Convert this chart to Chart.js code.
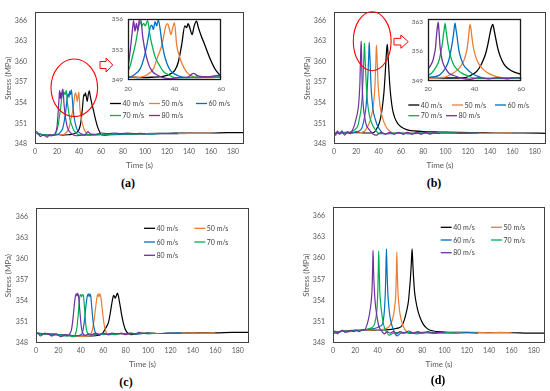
<!DOCTYPE html>
<html>
<head>
<meta charset="utf-8">
<script src="https://cdn.jsdelivr.net/npm/chart.js@4.4.1/dist/chart.umd.min.js"></script>
<style>
  body { margin: 0; background: #fff; width: 550px; height: 391px; position: relative; overflow: hidden; }
  .pane { position: absolute; }
  .pane canvas { display: block; }
  .tag { position: absolute; font: bold 12px "Liberation Serif", "DejaVu Serif", serif; color: #000; transform: translate(-50%, -50%); }
</style>
</head>
<body>
<div class="pane" style="left:0px;top:0px"><canvas id="chartA" width="275" height="175"></canvas></div>
<div class="pane" style="left:299px;top:0px"><canvas id="chartB" width="251" height="175"></canvas></div>
<div class="pane" style="left:0px;top:196px"><canvas id="chartC" width="275" height="178"></canvas></div>
<div class="pane" style="left:298px;top:195px"><canvas id="chartD" width="252" height="179"></canvas></div>
<div class="pane" style="left:100px;top:10px"><canvas id="insetA" width="130" height="90"></canvas></div>
<div class="pane" style="left:400px;top:10px"><canvas id="insetB" width="130" height="90"></canvas></div>
<div class="tag" style="left:128px;top:183px">(a)</div>
<div class="tag" style="left:434px;top:183px">(b)</div>
<div class="tag" style="left:126px;top:382px">(c)</div>
<div class="tag" style="left:438px;top:380px">(d)</div>
<script>
// series names and colours
const speedLabels = ['40 m/s', '50 m/s', '60 m/s', '70 m/s', '80 m/s'];
const seriesColors = ['#000000', '#ED7D31', '#0070C0', '#00B050', '#7030A0'];

// axis ticks
const timeTicks = [0, 20, 40, 60, 80, 100, 120, 140, 160, 180];
const stressTicks = [348, 351, 354, 357, 360, 363, 366];
const insetTimeTicks = [20, 40, 60];
const insetATicks = [349, 352.5, 356];
const insetALabels = ['349', '353', '356'];
const insetBTicks = [349, 356, 363];
const insetBLabels = ['349', '356', '363'];

// (a) time (s) / stress (MPa)
const a40t = [0, 5, 10, 15, 20, 25, 30, 35, 38, 40, 41.5, 43, 44.4, 45.2, 45.8, 46.5, 47.5, 48.4, 49.4, 50.2, 51.5, 53, 55, 57.2, 59, 60, 63, 68, 75, 85, 100, 120, 140, 160, 175, 190];
const a40s = [349.6, 349.4, 349.3, 349.3, 349.4, 349.3, 349.35, 349.45, 349.7, 350.1, 351.0, 353.0, 355.2, 355.0, 355.45, 355.0, 354.2, 355.2, 355.75, 355.0, 354.0, 353.0, 351.6, 350.35, 349.7, 349.4, 349.3, 349.35, 349.4, 349.45, 349.5, 349.55, 349.6, 349.6, 349.65, 349.65];
const a50t = [0, 5, 10, 15, 20, 25, 28, 30.9, 32.5, 34.5, 35.5, 36.2, 37.0, 37.7, 38.4, 39.2, 39.9, 40.9, 42, 43, 45, 47.2, 50, 55, 60, 70, 80, 90, 100, 110, 120, 130, 140, 150, 160];
const a50s = [349.6, 349.4, 349.3, 349.3, 349.4, 349.35, 349.6, 350.3, 351.5, 353.0, 354.3, 355.2, 355.46, 354.9, 354.2, 355.0, 355.56, 353.0, 351.8, 351.0, 350.0, 349.5, 349.3, 349.3, 349.4, 349.35, 349.4, 349.45, 349.45, 349.5, 349.5, 349.5, 349.55, 349.55, 349.55];
const a60t = [0, 5, 10, 15, 18, 21, 23, 25.2, 26.8, 28.1, 29.5, 30.2, 30.9, 31.6, 32.3, 33.0, 33.7, 34.5, 35.5, 36.6, 38, 40.1, 43, 47, 55, 65, 75, 85, 95, 105, 115, 130];
const a60s = [349.6, 349.4, 349.3, 349.3, 349.3, 349.4, 349.7, 350.3, 351.5, 353.0, 355.0, 355.3, 354.8, 355.7, 355.2, 355.9, 355.0, 353.4, 352.0, 351.0, 350.2, 349.7, 349.4, 349.3, 349.35, 349.4, 349.4, 349.45, 349.5, 349.45, 349.5, 349.5];
const a70t = [0, 5, 10, 15, 17.5, 19.5, 21.0, 22, 23.1, 24.5, 25.2, 26.0, 26.7, 27.4, 28.4, 29.5, 30.5, 31.6, 33.5, 35.2, 37.5, 40.1, 45, 50, 60, 70, 80, 90, 100, 110];
const a70s = [349.6, 349.4, 349.3, 349.2, 349.3, 349.8, 350.7, 351.8, 353.0, 355.0, 355.7, 355.2, 355.5, 355.2, 355.8, 354.0, 352.8, 351.7, 350.7, 350.0, 349.6, 349.3, 349.3, 349.4, 349.35, 349.45, 349.5, 349.45, 349.5, 349.5];
const a80t = [0, 1.5, 3, 5, 7, 9, 11, 13, 15, 17, 18.5, 20, 21, 21.8, 22.4, 23.0, 23.6, 24.2, 24.8, 25.4, 26.4, 27.6, 29, 30.5, 32.5, 35, 38, 42, 46, 48, 50, 54, 60, 66, 72, 78, 84, 90, 96, 100];
const a80s = [349.7, 349.8, 349.5, 349.1, 349.3, 349.2, 349.0, 349.3, 349.2, 349.3, 349.6, 350.5, 352.5, 354.5, 355.8, 354.6, 355.5, 354.7, 355.8, 356.0, 353.8, 352.0, 350.7, 350.0, 349.6, 349.3, 349.2, 349.3, 349.4, 349.8, 349.5, 349.4, 349.6, 349.5, 349.6, 349.5, 349.6, 349.5, 349.55, 349.5];

// (b)
const b40t = [0, 10, 20, 28, 33, 36, 38.5, 40.5, 42, 43.5, 44.8, 45.8, 46.6, 47.2, 47.8, 48.4, 49.1, 50, 51, 52.5, 54.5, 57, 60, 65, 72, 80, 95, 110, 130, 150, 170, 190];
const b40s = [349.6, 349.6, 349.7, 349.6, 349.6, 349.7, 350.3, 351.0, 352.0, 353.6, 355.6, 358.0, 360.3, 361.8, 362.5, 361.0, 359.0, 356.6, 354.8, 353.0, 351.8, 351.0, 350.5, 350.1, 349.9, 349.8, 349.75, 349.7, 349.65, 349.6, 349.6, 349.55];
const b50t = [0, 10, 20, 25, 27.7, 30, 32.6, 34.2, 35.4, 36.2, 36.8, 37.3, 37.7, 38.0, 38.4, 38.8, 39.3, 39.9, 40.8, 41.8, 43.5, 46, 49, 53, 58, 65, 75, 90, 105, 120, 140, 160];
const b50s = [349.6, 349.6, 349.6, 349.7, 349.9, 350.5, 351.5, 352.6, 353.8, 355.2, 356.8, 359.0, 361.2, 362.4, 361.5, 359.6, 357.5, 355.8, 354.2, 353.0, 351.8, 350.7, 350.0, 349.6, 349.55, 349.6, 349.55, 349.6, 349.6, 349.6, 349.55, 349.6];
const b60t = [0, 10, 15, 20, 22.5, 24.9, 26.5, 27.7, 28.9, 29.8, 30.4, 30.9, 31.3, 31.6, 32.0, 32.4, 32.8, 33.3, 34.2, 35.4, 37, 38.9, 41.5, 44.6, 50, 60, 70, 80, 90, 100, 115, 130];
const b60s = [349.6, 349.7, 349.6, 349.8, 349.9, 350.3, 351.2, 352.2, 353.8, 356.1, 358.0, 359.9, 361.8, 362.8, 361.3, 359.9, 358.0, 356.1, 354.2, 352.6, 351.6, 350.7, 350.0, 349.5, 349.5, 349.6, 349.5, 349.6, 349.55, 349.6, 349.55, 349.6];
const b70t = [0, 5, 10, 15, 18, 20, 21.4, 22.8, 24.2, 25.0, 25.6, 26.2, 26.6, 27.0, 27.3, 27.7, 28.0, 28.5, 29.1, 30, 31.2, 32.8, 34.7, 37.5, 40.4, 45, 55, 65, 75, 85, 95, 110];
const b70s = [349.6, 349.7, 349.6, 349.8, 350.0, 350.3, 350.7, 351.7, 353.0, 354.4, 356.1, 358.0, 359.9, 361.5, 362.7, 361.3, 359.9, 358.0, 356.1, 354.2, 352.6, 351.5, 350.7, 350.0, 349.5, 349.5, 349.6, 349.5, 349.6, 349.55, 349.6, 349.6];
const b80t = [0, 1.5, 3, 5, 7, 9.5, 12, 14.5, 16.5, 18, 20, 21.2, 22.1, 22.7, 23.2, 23.5, 23.8, 24.1, 24.4, 24.7, 25.2, 25.7, 26.3, 27.5, 29.1, 31, 34.7, 38, 42, 46, 50, 54, 58, 62, 66, 70, 74, 78, 82, 86, 90, 95];
const b80s = [349.6, 349.3, 349.9, 349.4, 349.9, 349.3, 349.8, 349.5, 350.0, 350.6, 351.8, 352.7, 353.8, 355.2, 356.8, 358.8, 360.7, 362.2, 363.0, 361.0, 357.0, 355.0, 353.4, 351.9, 350.7, 350.2, 349.5, 349.3, 349.7, 349.4, 349.7, 349.4, 349.7, 349.4, 349.7, 349.4, 349.7, 349.4, 349.7, 349.45, 349.65, 349.5];

// (c)
const c40t = [0, 10, 20, 30, 40, 50, 56, 59, 61, 62.8, 64.6, 66.2, 67.6, 68.5, 69.2, 70.0, 70.7, 71.6, 72.6, 73.5, 74.5, 75.5, 76.4, 78, 79.5, 80.9, 83, 85.3, 90, 100, 110, 120, 140, 160, 175, 190];
const c40s = [349.4, 349.3, 349.2, 349.1, 349.0, 349.0, 349.1, 349.3, 349.8, 350.3, 350.9, 352.2, 353.6, 354.4, 354.8, 354.6, 354.4, 354.7, 355.1, 354.7, 353.8, 352.9, 352.0, 350.8, 350.0, 349.6, 349.3, 349.2, 349.3, 349.4, 349.35, 349.4, 349.45, 349.45, 349.5, 349.5];
const c50t = [0, 10, 20, 30, 40, 46, 49, 50.5, 52, 53.3, 54.4, 55.3, 56.1, 56.9, 57.7, 58.5, 59.5, 60.6, 61.8, 63, 64.5, 67, 72, 80, 90, 100, 110, 120, 130, 140, 150, 160];
const c50s = [349.4, 349.3, 349.2, 349.1, 348.95, 349.0, 349.3, 350.0, 351.5, 353.2, 354.5, 355.0, 354.6, 355.0, 354.7, 353.7, 352.2, 350.8, 349.9, 349.4, 349.2, 349.2, 349.3, 349.3, 349.35, 349.4, 349.35, 349.4, 349.4, 349.45, 349.4, 349.45];
const c60t = [0, 10, 20, 30, 35, 40.5, 42, 43.5, 44.7, 45.8, 46.7, 47.4, 48.1, 48.8, 49.6, 50.5, 51.5, 52.5, 54, 56, 60, 65, 70, 80, 90, 100, 110, 120, 130];
const c60s = [349.4, 349.3, 349.2, 349.1, 349.0, 349.2, 349.9, 351.6, 353.5, 354.7, 355.0, 354.6, 355.0, 354.7, 353.4, 351.7, 350.4, 349.7, 349.3, 349.2, 349.3, 349.2, 349.3, 349.35, 349.3, 349.4, 349.35, 349.4, 349.4];
const c70t = [0, 5, 10, 15, 20, 25, 30, 33.5, 35, 36.5, 37.5, 38.5, 39.3, 40.0, 40.7, 41.4, 42.2, 43.0, 43.8, 44.6, 45.5, 47, 50, 55, 60, 65, 70, 75, 80, 85, 90, 95, 100, 105, 110];
const c70s = [349.4, 349.2, 349.3, 349.1, 349.2, 349.0, 349.0, 348.9, 349.2, 350.2, 351.8, 353.7, 354.8, 354.9, 354.6, 354.9, 354.8, 353.6, 351.8, 350.3, 349.6, 349.2, 349.1, 349.3, 349.2, 349.3, 349.2, 349.35, 349.3, 349.4, 349.3, 349.4, 349.3, 349.35, 349.35];
const c80t = [0, 2, 4, 6, 8, 10, 12, 14, 16, 18, 20, 22, 24, 26, 28, 30, 31.5, 32.5, 33.5, 34.5, 35.3, 36.0, 36.6, 37.2, 37.8, 38.6, 39.4, 40.2, 41, 42, 44, 47, 50, 53, 56, 60, 64, 68, 72, 76, 80, 84, 88, 92, 96, 100];
const c80s = [349.4, 349.35, 349.0, 349.2, 349.4, 349.3, 349.2, 349.0, 349.2, 349.3, 349.1, 348.9, 349.0, 349.2, 349.0, 349.3, 349.8, 350.8, 352.3, 353.9, 354.8, 355.0, 354.7, 355.1, 354.8, 353.6, 352.0, 350.6, 349.8, 349.3, 349.1, 349.3, 349.2, 349.4, 349.2, 349.4, 349.2, 349.4, 349.3, 349.4, 349.2, 349.4, 349.3, 349.5, 349.35, 349.4];

// (d)
const d40t = [0, 10, 20, 30, 40, 50, 55, 58, 61.6, 64, 66.1, 67.6, 68.5, 69.4, 70.1, 70.9, 71.6, 72.2, 73, 74.3, 76, 78, 81.1, 84, 87, 90, 95, 100, 110, 120, 140, 160, 175, 190];
const d40s = [349.4, 349.7, 349.8, 349.8, 349.85, 349.9, 350.0, 350.1, 350.4, 351.3, 352.6, 353.9, 355.4, 357.2, 359.0, 361.3, 359.0, 357.3, 355.4, 353.9, 352.6, 351.6, 350.6, 350.1, 349.8, 349.7, 349.6, 349.55, 349.5, 349.5, 349.45, 349.45, 349.4, 349.4];
const d50t = [0, 10, 20, 30, 40, 47, 50, 52, 53.6, 54.8, 55.7, 56.3, 56.8, 57.2, 57.7, 58.3, 59.0, 59.7, 60.8, 62, 63.5, 65, 68, 72, 80, 90, 100, 110, 120, 130, 140, 150, 160];
const d50s = [349.4, 349.7, 349.8, 349.8, 349.9, 350.0, 350.3, 350.8, 351.5, 352.5, 353.7, 355.0, 357.8, 360.9, 357.6, 355.0, 353.6, 352.5, 351.5, 350.8, 350.2, 349.8, 349.4, 349.5, 349.4, 349.5, 349.4, 349.5, 349.45, 349.5, 349.45, 349.5, 349.45];
const d60t = [0, 5, 10, 15, 20, 25, 30, 35, 40, 42.5, 44.6, 45.6, 46.3, 46.9, 47.3, 47.9, 48.4, 48.8, 49.3, 50.0, 51.0, 52.4, 53.8, 55.4, 57.4, 60, 65, 70, 80, 90, 100, 110, 120, 130];
const d60s = [349.4, 349.6, 349.7, 349.7, 349.8, 349.8, 349.9, 350.0, 350.2, 350.4, 350.8, 351.8, 353.2, 355.2, 357.5, 361.3, 358.4, 356.4, 354.6, 353.2, 351.8, 350.7, 350.0, 349.4, 349.0, 349.3, 349.5, 349.35, 349.5, 349.4, 349.45, 349.4, 349.45, 349.4];
const d70t = [0, 5, 10, 15, 20, 25, 28, 32, 35, 37, 38.3, 39.5, 40.2, 40.6, 41.0, 41.4, 41.9, 42.6, 43.4, 44.4, 45.5, 47, 48.5, 50, 53, 57, 62, 68, 75, 82, 90, 100, 110];
const d70s = [349.4, 349.5, 349.7, 349.6, 349.7, 349.8, 349.9, 350.0, 350.2, 350.6, 351.4, 353.0, 355.5, 358.5, 361.0, 358.3, 355.4, 353.8, 352.6, 351.4, 350.5, 349.8, 349.5, 349.1, 349.3, 349.5, 349.4, 349.5, 349.3, 349.5, 349.4, 349.45, 349.4];
const d80t = [0, 2, 4, 6, 8.5, 11, 13.5, 16, 18.5, 21, 23.5, 26, 28.5, 30.5, 32, 33.3, 34.3, 35.0, 35.5, 35.9, 36.4, 37.1, 37.9, 38.9, 40, 41, 42.5, 44, 46, 48.5, 51, 54, 57, 60, 64, 68, 72, 76, 80, 85, 90, 95, 100];
const d80s = [349.4, 349.7, 349.3, 349.6, 349.8, 349.5, 349.6, 349.8, 349.6, 349.8, 349.6, 349.85, 349.9, 350.6, 351.5, 352.7, 354.0, 355.6, 358.5, 361.1, 358.0, 355.4, 353.6, 352.3, 351.2, 350.4, 349.9, 349.6, 349.3, 349.6, 349.4, 349.6, 349.3, 349.6, 349.4, 349.7, 349.4, 349.6, 349.4, 349.6, 349.4, 349.55, 349.45];

const FONT = 'Lato, "Liberation Sans", sans-serif';
const TEXT_COLOR = '#595959';

// plot frame, white fill, legend keys, red circle + arrow
const panelDecor = {
    id: 'panelDecor',
    beforeDatasetsDraw(chart, args, opts) {
        const a = chart.chartArea;
        const ctx = chart.ctx;
        if (opts.fill) {
            ctx.save();
            ctx.fillStyle = opts.fill;
            ctx.fillRect(a.left, a.top, a.right - a.left, a.bottom - a.top);
            ctx.restore();
        }
    },
    afterDatasetsDraw(chart, args, opts) {
        const a = chart.chartArea;
        const ctx = chart.ctx;
        ctx.save();
        ctx.strokeStyle = opts.frame || '#404040';
        ctx.lineWidth = opts.frameWidth || 1;
        const l = Math.round(a.left) + 0.5, t = Math.round(a.top) + 0.5;
        const r = Math.round(a.right) - 0.5, b = Math.round(a.bottom) - 0.5;
        ctx.strokeRect(l, t, r - l, b - t);

        (opts.keys || []).forEach((p, i) => {
            const ds = chart.data.datasets[i];
            ctx.strokeStyle = ds.borderColor;
            ctx.lineWidth = 1.3;
            ctx.beginPath();
            ctx.moveTo(p[0], p[1]);
            ctx.lineTo(p[0] + 11, p[1]);
            ctx.stroke();
            ctx.fillStyle = '#404040';
            ctx.font = '7px ' + FONT;
            ctx.textAlign = 'left';
            ctx.textBaseline = 'middle';
            ctx.fillText(ds.label, p[0] + 12.5, p[1] + 0.5);
        });

        if (opts.ellipse) {
            const e = opts.ellipse;
            ctx.strokeStyle = '#FF0000';
            ctx.lineWidth = 1.1;
            ctx.beginPath();
            ctx.ellipse(e[0], e[1], e[2], e[3], 0, 0, Math.PI * 2);
            ctx.stroke();
        }
        if (opts.arrow) {
            // block arrow pointing right, inside box x0..x1, y0..y1
            const [x0, y0, x1, y1] = opts.arrow;
            const midY = (y0 + y1) / 2;
            const neck = x0 + (x1 - x0) * 0.48;
            const sh = (y1 - y0) * 0.25;
            ctx.strokeStyle = '#FF0000';
            ctx.fillStyle = '#ffffff';
            ctx.lineWidth = 1;
            ctx.beginPath();
            ctx.moveTo(x0, midY - sh);
            ctx.lineTo(neck, midY - sh);
            ctx.lineTo(neck, y0);
            ctx.lineTo(x1, midY);
            ctx.lineTo(neck, y1);
            ctx.lineTo(neck, midY + sh);
            ctx.lineTo(x0, midY + sh);
            ctx.closePath();
            ctx.fill();
            ctx.stroke();
        }
        ctx.restore();
    }
};

function makeSets(times, values, width) {
    return speedLabels.map((lab, i) => ({
        label: lab,
        data: times[i].map((t, k) => ({ x: t, y: values[i][k] })),
        borderColor: seriesColors[i],
        borderWidth: width,
        pointRadius: 0,
        fill: false,
        cubicInterpolationMode: 'monotone',
        order: speedLabels.length - i
    }));
}

function axisSet(o) {
    return {
        x: {
            type: 'linear',
            min: o.xMin,
            max: o.xMax,
            afterBuildTicks: s => { s.ticks = o.xTicks.map(v => ({ value: v })); },
            afterFit: s => { s.height = o.xH; },
            grid: { display: false, drawTicks: false },
            border: { display: false },
            ticks: {
                autoSkip: false,
                maxRotation: 0,
                padding: o.xPad,
                color: TEXT_COLOR,
                font: { family: FONT, size: o.tickSize },
                callback: (v, i) => String(o.xTicks[i])
            },
            title: {
                display: !!o.titles,
                text: 'Time (s)',
                color: TEXT_COLOR,
                font: { family: FONT, size: 8 },
                padding: { top: 0, bottom: 5.2 }
            }
        },
        y: {
            type: 'linear',
            min: o.yMin,
            max: o.yMax,
            afterBuildTicks: s => { s.ticks = o.yTicks.map(v => ({ value: v })); },
            afterFit: s => { s.width = o.yW; },
            grid: { display: false, drawTicks: false },
            border: { display: false },
            ticks: {
                padding: o.yPad,
                color: TEXT_COLOR,
                font: { family: FONT, size: o.tickSize },
                callback: (v, i) => o.yLabels[i]
            },
            title: {
                display: !!o.titles,
                text: 'Stress (MPa)',
                color: TEXT_COLOR,
                font: { family: FONT, size: 8 },
                padding: { top: 3.5, bottom: 0 }
            }
        }
    };
}

function drawPanel(id, times, values, cfg) {
    const ctx = document.getElementById(id);
    return new Chart(ctx, {
        type: 'line',
        data: { datasets: makeSets(times, values, cfg.lineWidth || 1.2) },
        options: {
            responsive: false,
            animation: false,
            events: [],
            layout: { padding: cfg.padding },
            scales: axisSet(cfg.axes),
            plugins: {
                legend: { display: false },
                tooltip: { enabled: false },
                panelDecor: cfg.decor
            }
        },
        plugins: [panelDecor]
    });
}

const mainAxes = (yW, xH) => ({
    xMin: 0, xMax: 190, xTicks: timeTicks, xH: xH, xPad: 4,
    yMin: 348, yMax: 367.2, yTicks: stressTicks, yLabels: stressTicks.map(String), yW: yW, yPad: 8,
    tickSize: 7, titles: true
});

const aTimes = [a40t, a50t, a60t, a70t, a80t], aVals = [a40s, a50s, a60s, a70s, a80s];
const bTimes = [b40t, b50t, b60t, b70t, b80t], bVals = [b40s, b50s, b60s, b70s, b80s];
const cTimes = [c40t, c50t, c60t, c70t, c80t], cVals = [c40s, c50s, c60s, c70s, c80s];
const dTimes = [d40t, d50t, d60t, d70t, d80t], dVals = [d40s, d50s, d60s, d70s, d80s];

drawPanel('chartA', aTimes, aVals, {
    padding: { left: 0, top: 4.3, right: 31, bottom: 0 },
    axes: mainAxes(35, 31),
    decor: {
        keys: [[110, 103.5], [149, 103.5], [196, 103.5], [110, 115.5], [149, 115.5]],
        ellipse: [74.3, 87.8, 23.3, 28.8],
        arrow: [100, 58, 112.7, 72]
    }
});

drawPanel('chartB', bTimes, bVals, {
    padding: { left: 0, top: 4.3, right: 4, bottom: 0 },
    axes: mainAxes(35, 31),
    decor: {
        keys: [[109.3, 105], [153, 105], [196, 105], [109.3, 115.7], [147, 115.7]],
        ellipse: [73.2, 41.2, 18.9, 29.5],
        arrow: [95, 35, 109.3, 48.3]
    }
});

drawPanel('chartC', cTimes, cVals, {
    padding: { left: 0, top: 5.7, right: 26, bottom: 0 },
    axes: mainAxes(36, 31),
    decor: {
        keys: [[144, 32.3], [194.3, 32.3], [144, 46], [194.3, 46], [144, 59.3]]
    }
});

drawPanel('chartD', dTimes, dVals, {
    padding: { left: 0, top: 5, right: 5, bottom: 0 },
    axes: mainAxes(35, 31),
    decor: {
        keys: [[142.7, 32.3], [193, 32.3], [142.7, 45], [193, 45], [142.7, 57.7]]
    }
});

// zoomed views of (a) and (b)
drawPanel('insetA', aTimes, aVals, {
    lineWidth: 1.3,
    padding: { left: 0, top: 7, right: 6, bottom: 0 },
    axes: {
        xMin: 20, xMax: 60, xTicks: insetTimeTicks, xH: 19.7, xPad: 5,
        yMin: 349, yMax: 356, yTicks: insetATicks, yLabels: insetALabels, yW: 28, yPad: 5,
        tickSize: 6.5, titles: false
    },
    decor: { fill: '#ffffff', frame: '#1a1a1a', frameWidth: 1.3 }
});

drawPanel('insetB', bTimes, bVals, {
    lineWidth: 1.3,
    padding: { left: 0, top: 7.5, right: 6.5, bottom: 0 },
    axes: {
        xMin: 20, xMax: 60, xTicks: insetTimeTicks, xH: 19.5, xPad: 5,
        yMin: 349, yMax: 363.8, yTicks: insetBTicks, yLabels: insetBLabels, yW: 28, yPad: 5,
        tickSize: 6.5, titles: false
    },
    decor: { fill: '#ffffff', frame: '#1a1a1a', frameWidth: 1.3 }
});
</script>
</body>
</html>
